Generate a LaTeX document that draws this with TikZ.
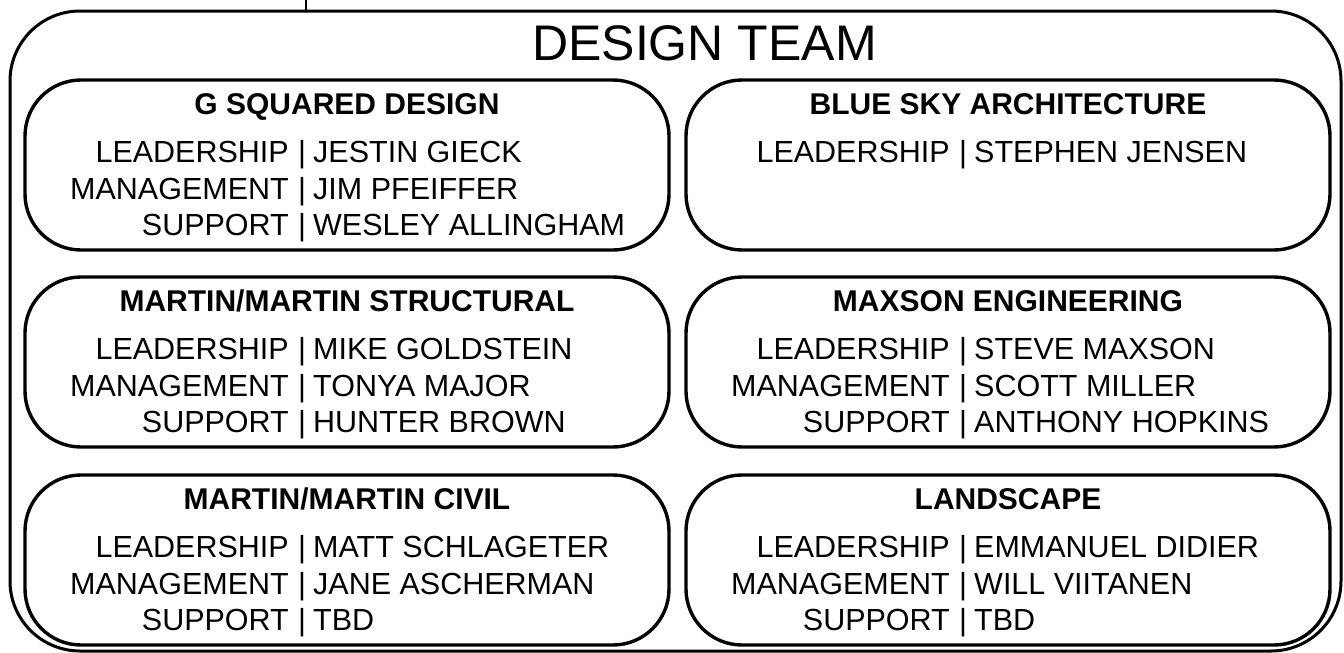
\documentclass[tikz,border=0pt]{standalone}
\usepackage{fontspec}
\setmainfont{Liberation Sans}
\begin{document}
\begin{tikzpicture}[x=1pt,y=-1pt,
  teamframe/.style={draw, line width=3pt, rounded corners=70pt, inner sep=0pt,
    minimum width=1331pt, minimum height=640pt},
  firmbox/.style={draw, line width=3.4pt, rounded corners=56pt, inner sep=0pt,
    minimum width=644pt, minimum height=170pt},
  headline/.style={inner sep=0pt, font=\fontsize{50}{60}\selectfont},
  firmtitle/.style={inner sep=0pt, anchor=base, font=\fontsize{30}{36}\selectfont\bfseries},
  role/.style={inner sep=0pt, anchor=base east, font=\fontsize{30.5}{36}\selectfont},
  bar/.style={inner sep=0pt, anchor=base, font=\fontsize{30.5}{36}\selectfont},
  person/.style={inner sep=0pt, anchor=base west, font=\fontsize{30.5}{36}\selectfont},
  link/.style={line width=1.4pt}]
\useasboundingbox (0,0) rectangle (1344,653);

% one firm: name, left x, top y, title
\newcommand{\firmpanel}[4]{%
  \node[firmbox] (#1) at (#2+322, #3+85) {};
  \node[firmtitle] (#1-title) at (#2+322, #3+34) {#4};
}
% one staff row: id, separator x, baseline y, role, person
\newcommand{\staffrow}[5]{%
  \node[role] (#1-role) at (#2-13, #3) {#4};
  \node[bar] (#1-bar) at (#2, #3) {|};
  \node[person] (#1-name) at (#2+11, #3) {#5};
}

% outer frame and its link upwards
\node[teamframe] (team) at (675.5, 331) {};
\coordinate (up) at (306,0);
\draw[link] (up) -- (up |- team.north);
\node[headline, anchor=base west] (head) at (532,60) {DESIGN TEAM};

% left column
\firmpanel{gsq}{25}{80}{G SQUARED DESIGN}
\staffrow{gsq1}{302}{162}{LEADERSHIP}{JESTIN GIECK}
\staffrow{gsq2}{302}{199}{MANAGEMENT}{JIM PFEIFFER}
\staffrow{gsq3}{302}{235}{SUPPORT}{WESLEY ALLINGHAM}

\firmpanel{mms}{25}{277}{MARTIN/MARTIN STRUCTURAL}
\staffrow{mms1}{302}{359}{LEADERSHIP}{MIKE GOLDSTEIN}
\staffrow{mms2}{302}{396}{MANAGEMENT}{TONYA MAJOR}
\staffrow{mms3}{302}{432}{SUPPORT}{HUNTER BROWN}

\firmpanel{mmc}{25}{475}{MARTIN/MARTIN CIVIL}
\staffrow{mmc1}{302}{557}{LEADERSHIP}{MATT SCHLAGETER}
\staffrow{mmc2}{302}{594}{MANAGEMENT}{JANE ASCHERMAN}
\staffrow{mmc3}{302}{630}{SUPPORT}{TBD}

% right column
\firmpanel{bsa}{686}{80}{BLUE SKY ARCHITECTURE}
\staffrow{bsa1}{963}{162}{LEADERSHIP}{STEPHEN JENSEN}

\firmpanel{mxe}{686}{277}{MAXSON ENGINEERING}
\staffrow{mxe1}{963}{359}{LEADERSHIP}{STEVE MAXSON}
\staffrow{mxe2}{963}{396}{MANAGEMENT}{SCOTT MILLER}
\staffrow{mxe3}{963}{432}{SUPPORT}{ANTHONY HOPKINS}

\firmpanel{lsc}{686}{475}{LANDSCAPE}
\staffrow{lsc1}{963}{557}{LEADERSHIP}{EMMANUEL DIDIER}
\staffrow{lsc2}{963}{594}{MANAGEMENT}{WILL VIITANEN}
\staffrow{lsc3}{963}{630}{SUPPORT}{TBD}
\end{tikzpicture}
\end{document}
